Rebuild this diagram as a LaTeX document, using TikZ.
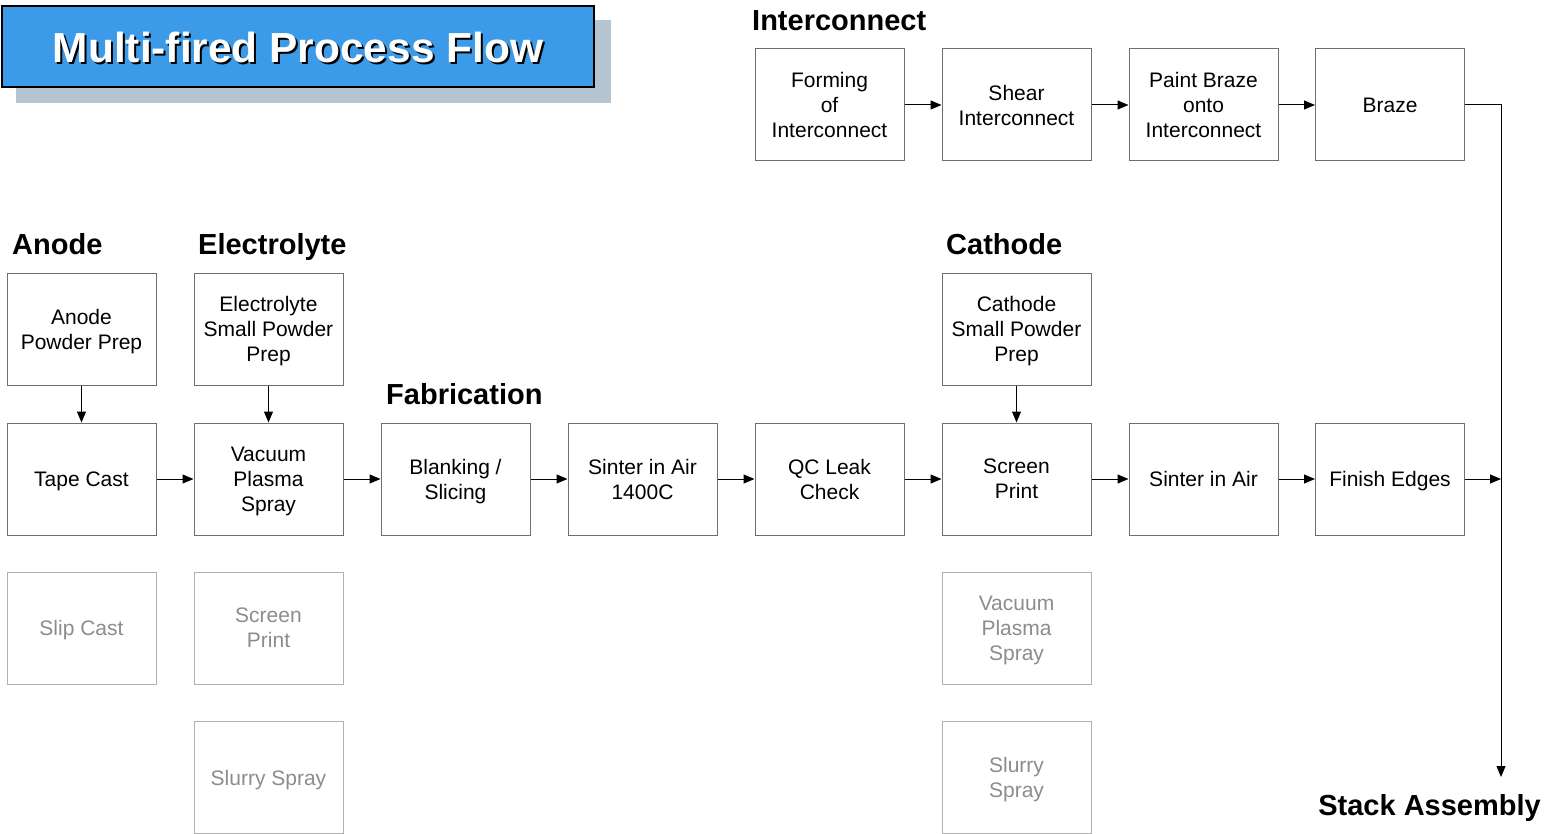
\documentclass[tikz,border=0pt]{standalone}
\usepackage{fontspec}
\setmainfont{Liberation Sans}
\usetikzlibrary{arrows.meta}
\definecolor{boxline}{HTML}{6E6E6E}
\definecolor{fadeline}{HTML}{B0B0B0}
\definecolor{fadetext}{HTML}{8C8C8C}
\definecolor{titleblue}{HTML}{3B9BE8}
\definecolor{shadowgrey}{HTML}{B4C4D0}
\tikzset{
  procbox/.style={draw=boxline, line width=1pt, minimum width=149pt, minimum height=112pt, inner sep=0pt, align=center, text depth=0pt, font=\fontsize{21}{25}\selectfont},
  fadebox/.style={procbox, draw=fadeline, text=fadetext},
  heading/.style={anchor=base west, inner sep=0pt, font=\fontsize{29}{32}\selectfont\bfseries},
  flow/.style={draw=black, line width=1pt, -{Triangle[length=11pt,width=9pt]}},
  titletext/.style={inner sep=0pt, font=\fontsize{42}{44}\selectfont\bfseries}
}
\begin{document}
\begin{tikzpicture}[x=1pt,y=-1pt]
\useasboundingbox (0,0) rectangle (1546,834);
% title
\fill[shadowgrey] (16,20) rectangle (611,103);
\filldraw[fill=titleblue, draw=black, line width=2pt] (2,6) rectangle (594,87);
\node[titletext, text=black] (titleshadow) at (300,49) {\scalebox{1.01}[1]{Multi-fired Process Flow}};
\node[titletext, text=white] (title) at (298,47) {\scalebox{1.01}[1]{Multi-fired Process Flow}};
% headings
\node[heading] (hInter) at (752,30.5) {Interconnect};
\node[heading] (hAnode) at (12,254.5) {Anode};
\node[heading] (hElec) at (198,254.5) {Electrolyte};
\node[heading] (hFab) at (386,404.5) {Fabrication};
\node[heading] (hCath) at (946,254.5) {Cathode};
\node[heading, anchor=base east] (hStack) at (1541,815.5) {Stack Assembly};
% interconnect row
\node[procbox] (i1) at (829.5,105) {Forming\\of\\Interconnect};
\node[procbox] (i2) at (1016.5,105) {Shear\\Interconnect};
\node[procbox] (i3) at (1203.5,105) {Paint Braze\\onto\\Interconnect};
\node[procbox] (i4) at (1390,105) {Braze};
% prep row
\node[procbox] (p1) at (81.5,329) {Anode\\Powder Prep};
\node[procbox] (p2) at (268.5,329) {Electrolyte\\Small Powder\\Prep};
\node[procbox] (p6) at (1016.5,329) {Cathode\\Small Powder\\Prep};
% main row
\node[procbox] (m1) at (81.5,479) {Tape Cast};
\node[procbox] (m2) at (268.5,479) {Vacuum\\Plasma\\Spray};
\node[procbox] (m3) at (455.5,479) {Blanking /\\Slicing};
\node[procbox] (m4) at (642.5,479) {Sinter in Air\\1400C};
\node[procbox] (m5) at (829.5,479) {QC Leak\\Check};
\node[procbox] (m6) at (1016.5,479) {Screen\\Print};
\node[procbox] (m7) at (1203.5,479) {Sinter in Air};
\node[procbox] (m8) at (1390,479) {Finish Edges};
% faded alternatives
\node[fadebox] (a1) at (81.5,628) {Slip Cast};
\node[fadebox] (a2) at (268.5,628) {Screen\\Print};
\node[fadebox] (a6) at (1016.5,628) {Vacuum\\Plasma\\Spray};
\node[fadebox] (b2) at (268.5,777.5) {Slurry Spray};
\node[fadebox] (b6) at (1016.5,777.5) {Slurry\\Spray};
% connectors
\draw[flow] (i1) -- (i2);
\draw[flow] (i2) -- (i3);
\draw[flow] (i3) -- (i4);
\draw[flow] (p1) -- (m1);
\draw[flow] (p2) -- (m2);
\draw[flow] (p6) -- (m6);
\draw[flow] (m1) -- (m2);
\draw[flow] (m2) -- (m3);
\draw[flow] (m3) -- (m4);
\draw[flow] (m4) -- (m5);
\draw[flow] (m5) -- (m6);
\draw[flow] (m6) -- (m7);
\draw[flow] (m7) -- (m8);
\coordinate (bend) at (1501,105);
\coordinate (join) at (1501,479);
\coordinate (stackin) at (1501,777);
\draw[flow] (m8.east) -- (join);
\draw[flow] (i4.east) -- (bend) -- (stackin);
\end{tikzpicture}
\end{document}
